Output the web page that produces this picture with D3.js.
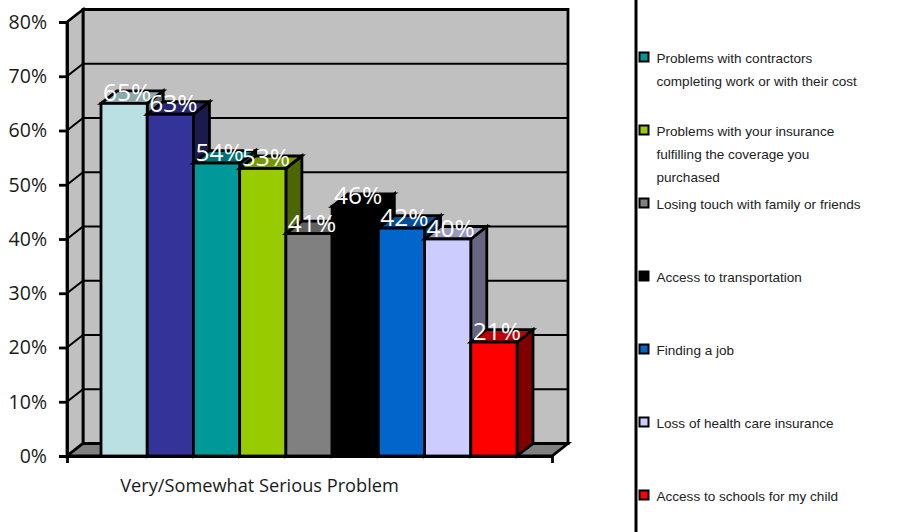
<!DOCTYPE html>
<html><head><meta charset="utf-8">
<script src="https://cdn.jsdelivr.net/npm/d3@7"></script>
<style>html,body{margin:0;padding:0;background:#fff}svg{display:block}</style></head>
<body><div id="c"></div>
<script>
const yTicks = [0,10,20,30,40,50,60,70,80];
const category = "Very/Somewhat Serious Problem";
const values = [65,63,54,53,41,46,42,40,21];
const colors = ["#bbe0e3","#333399","#009999","#99cc00","#808080","#000000","#0066cc","#ccccff","#ff0000"];
const legendColors = ["#009999","#99cc00","#808080","#000000","#0066cc","#ccccff","#ff0000"];
const legendLabels = [
  ["Problems with contractors","completing work or with their cost"],
  ["Problems with your insurance","fulfilling the coverage you","purchased"],
  ["Losing touch with family or friends"],
  ["Access to transportation"],
  ["Finding a job"],
  ["Loss of health care insurance"],
  ["Access to schools for my child"]
];

const W=914,H=532, dx=16, dy=-12.5, lw=2.8;
const svg=d3.select("#c").append("svg").attr("width",W).attr("height",H);
const y=d3.scaleLinear().domain([0,80]).range([456,22]);
const xCat=d3.scaleBand().domain([category]).range([67,552]);
const x=d3.scaleBand().domain(values.map((_,i)=>i)).range([101,517]);
const x0=xCat.range()[0], x1=xCat.range()[1];
const pts=a=>a.map(p=>p.join(",")).join(" ");
const wallTop=y(80)+dy;

// walls
svg.append("polygon").attr("points",pts([[x0+dx,wallTop],[x1+dx,wallTop],[x1+dx,y(0)+dy],[x0+dx,y(0)+dy]])).attr("fill","#c0c0c0").attr("stroke","#000").attr("stroke-width",lw);
svg.append("polygon").attr("points",pts([[x0,y(80)],[x0+dx,wallTop],[x0+dx,y(0)+dy],[x0,y(0)]])).attr("fill","#c0c0c0").attr("stroke","#000").attr("stroke-width",lw);
svg.append("polygon").attr("points",pts([[x0,y(0)],[x0+dx,y(0)+dy],[x1+dx,y(0)+dy],[x1,y(0)]])).attr("fill","#808080").attr("stroke","#000").attr("stroke-width",lw);

// gridlines
const grid=svg.append("g").attr("stroke","#000").attr("stroke-width",2).attr("fill","none");
grid.selectAll("path").data(yTicks.slice(1,-1)).join("path")
  .attr("d",t=>`M${x0},${y(t)}L${x0+dx},${y(t)+dy}L${x1+dx},${y(t)+dy}`);

// axes
const ax=svg.append("g").attr("transform",`translate(${x0},0)`)
  .call(d3.axisLeft(y).tickValues(yTicks).tickFormat(d=>d+"%").tickSize(8).tickPadding(12));
ax.selectAll("line").attr("stroke","#000").attr("stroke-width",lw);
ax.select(".domain").attr("stroke","#000").attr("stroke-width",lw);
ax.selectAll("text").attr("font-family","Open Sans").attr("font-size",19.5).attr("fill","#1a1a1a").attr("dy","0.32em");

const bx=svg.append("g").attr("transform",`translate(0,${y(0)})`)
  .call(d3.axisBottom(xCat).tickValues([]).tickSizeOuter(7));
bx.select(".domain").attr("stroke","#000").attr("stroke-width",lw);
bx.selectAll("path").attr("stroke-width",lw);
svg.append("text").attr("x",xCat(category)+xCat.bandwidth()/2-50).attr("y",492).attr("text-anchor","middle")
  .attr("font-family","Open Sans").attr("font-size",18.2).attr("fill","#1a1a1a").text(category);

// bars
const shade=(c,k)=>{const q=d3.rgb(c);return d3.rgb(q.r*k,q.g*k,q.b*k).formatRgb();};
const bars=svg.append("g").attr("stroke","#000").attr("stroke-width",lw).attr("stroke-linejoin","miter");
values.forEach((v,i)=>{
  const l=x(i), r=l+x.bandwidth(), t=y(v), b=y(0);
  const g=bars.append("g");
  g.append("polygon").attr("points",pts([[r,t],[r+dx,t+dy],[r+dx,b+dy],[r,b]])).attr("fill",shade(colors[i],0.5));
  g.append("polygon").attr("points",pts([[l,t],[l+dx,t+dy],[r+dx,t+dy],[r,t]])).attr("fill",shade(colors[i],0.75));
  g.append("rect").attr("x",l).attr("y",t).attr("width",x.bandwidth()).attr("height",b-t).attr("fill",colors[i]);
});

// data labels
svg.append("g").selectAll("text").data(values).join("text")
  .attr("x",(d,i)=>x(i)+x.bandwidth()/2+3).attr("y",d=>y(d)-2)
  .attr("text-anchor","middle").attr("font-family","Open Sans").attr("font-weight",400).attr("font-size",24.5)
  .attr("fill","#fff").text(d=>d+"%");

// legend frame
svg.append("line").attr("x1",636).attr("x2",636).attr("y1",0).attr("y2",H).attr("stroke","#000").attr("stroke-width",3);

// legend
const ly=d3.scalePoint().domain(legendLabels.map((_,i)=>i)).range([52,490]);
const leg=svg.append("g").selectAll("g").data(legendLabels).join("g").attr("transform",(d,i)=>`translate(639,${ly(i)})`);
leg.append("rect").attr("x",0.5).attr("y",0.5).attr("width",9).attr("height",9).attr("fill",(d,i)=>legendColors[i]).attr("stroke","#000").attr("stroke-width",2);
leg.each(function(lines){
  d3.select(this).selectAll("text").data(lines).join("text")
    .attr("x",17.5).attr("y",(d,j)=>11+j*23)
    .attr("font-family","Liberation Sans").attr("font-size",13.55).attr("fill","#222").text(d=>d);
});
</script></body></html>
